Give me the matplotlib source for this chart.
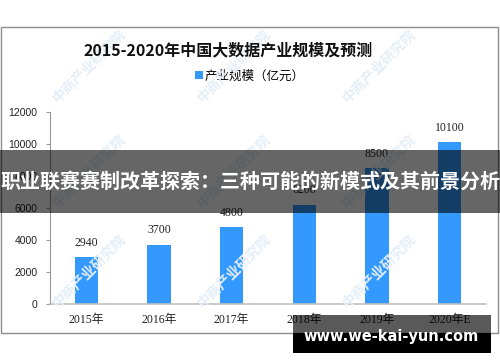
import matplotlib.pyplot as plt
from matplotlib.patches import Rectangle

# ==========================
# DATA
# ==========================

years = ["2015年", "2016年", "2017年", "2018年", "2019年", "2020年E"]
scale = [2940, 3700, 4800, 6200, 8500, 10100]
y_ticks = [0, 2000, 4000, 6000, 8000, 10000, 12000]

title = "2015-2020年中国大数据产业规模及预测"
legend_label = "产业规模（亿元）"
banner = "职业联赛赛制改革探索：三种可能的新模式及其前景分析"
site = "www.we-kai-yun.com"
mark = "中商产业研究院"

CJK = ["Noto Sans CJK SC", "DejaVu Sans"]
SERIF = ["Liberation Serif", "Noto Sans CJK SC"]
plt.rcParams["font.family"] = CJK

W, H = 500, 362

def fx(px):
    return px / W

def fy(py):
    return 1 - py / H

# ==========================
# FIGURE
# ==========================

fig = plt.figure(figsize=(5, 3.62), dpi=100)

# watermark tiles
for ty in [105, 210, 310]:
    for tx in [60, 205, 350]:
        fig.text(fx(tx), fy(ty), mark, rotation=45, fontsize=10,
                 fontweight="bold", color="#e4eef8", ha="left",
                 va="bottom", rotation_mode="anchor", zorder=0)

# outer frame
fig.add_artist(Rectangle((fx(0.5), fy(333)), fx(497.5), 306 / H,
                         transform=fig.transFigure, fill=False,
                         edgecolor="#8c8c8c", lw=1))

ax = fig.add_axes([fx(50), fy(304), fx(436), 192 / H])
ax.patch.set_alpha(0)

x = range(len(years))
bars = ax.bar(x, scale, width=0.32, color="#3399ff", label=legend_label,
              zorder=2)

for xi, v in zip(x, scale):
    ax.annotate(str(v), (xi, v), xytext=(0, 6), textcoords="offset points",
                ha="center", va="bottom", fontsize=8.5, family=SERIF,
                color="#222222")

ax.set_xlim(-0.5, len(years) - 0.5)
ax.set_ylim(0, 12000)
ax.set_yticks(y_ticks)
ax.set_yticklabels([str(t) for t in y_ticks], fontsize=7.5,
                   family=["Liberation Sans", "DejaVu Sans"])
ax.set_xticks(list(x))
ax.set_xticklabels(years, fontsize=8.5, family=SERIF)

ax.tick_params(axis="x", length=0, pad=7, colors="#222222")
ax.tick_params(axis="y", length=3, width=0.8, color="#999999",
               colors="#222222", pad=6)

for s in ["top", "right"]:
    ax.spines[s].set_visible(False)
ax.spines["left"].set_color("#999999")
ax.spines["bottom"].set_color("#bfbfbf")
ax.spines["bottom"].set_linewidth(1.2)

fig.text(fx(228), fy(50), title, ha="center", va="center", fontsize=11.5,
         fontweight="bold", color="#111111")

ax.legend(handles=[bars], loc="center", bbox_to_anchor=(0.5, fy(76)),
          bbox_transform=fig.transFigure, frameon=False, fontsize=9,
          handlelength=0.6, handleheight=0.6, handletextpad=0.2)

# banner overlay
fig.add_artist(Rectangle((0, fy(213)), 1, 63 / H,
                         transform=fig.transFigure, color="black",
                         alpha=0.6, lw=0, zorder=10))
fig.text(0.5, fy(181), banner, ha="center", va="center", fontsize=14.4,
         fontweight="bold", color="white", zorder=11)

# site box
fig.add_artist(Rectangle((fx(293), fy(333)), fx(198), 18 / H,
                         transform=fig.transFigure, color="black",
                         alpha=0.65, lw=0, zorder=10))
fig.add_artist(Rectangle((fx(293), fy(353)), fx(198), 20 / H,
                         transform=fig.transFigure, color="black",
                         lw=0, zorder=10))
fig.text(fx(391), fy(337), site, ha="center", va="center", fontsize=10.5,
         fontweight="bold", color="white", zorder=11,
         family=["DejaVu Sans"])

fig.savefig("out.png", dpi=100)
plt.close(fig)
